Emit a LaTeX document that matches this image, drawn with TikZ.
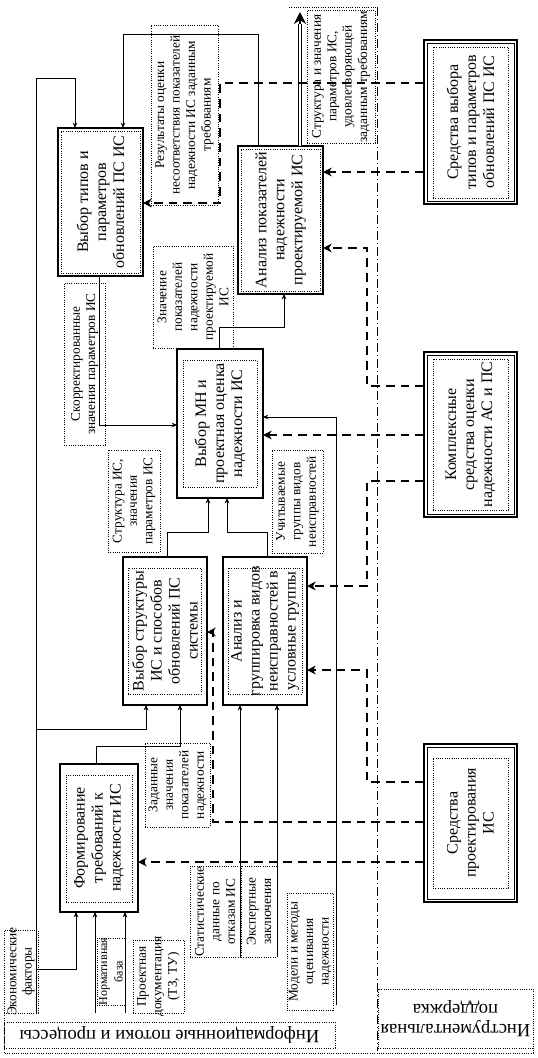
\documentclass[tikz,border=0pt]{standalone}
\usepackage{fontspec}
\setmainfont{Liberation Serif}
\usetikzlibrary{arrows.meta,fit}
\begin{document}
\begin{tikzpicture}[x=0.75pt,y=-0.75pt,
  every node/.style={outer sep=0pt},
  mbox/.style={draw, line width=0.8pt, inner sep=0pt},
  ibox/.style={draw, line width=0.6pt, dash pattern=on 0.6pt off 1.1pt, inner sep=0pt},
  tbox/.style={draw, line width=1.6pt, inner sep=0pt},
  tline/.style={draw, line width=0.6pt, inner sep=0pt},
  lbox/.style={draw, line width=0.6pt, dash pattern=on 0.6pt off 1.1pt, inner sep=0pt},
  bigtxt/.style={rotate=90, align=center, inner sep=0pt, font=\fontsize{12}{13.5}\selectfont},
  smtxt/.style={rotate=90, align=center, inner sep=0pt, font=\fontsize{10}{11.6}\selectfont},
  capt/.style={rotate=180, align=center, inner sep=0pt, font=\fontsize{14}{15}\selectfont},
  sline/.style={line width=0.75pt, -{Stealth[length=4pt,width=3.5pt]}},
  dline/.style={line width=1.6pt, dash pattern=on 6.5pt off 4.5pt, -{Stealth[length=6.5pt,width=6.5pt,inset=2pt]}},
  dblline/.style={double, double distance=2.2pt, line width=0.6pt},
  bigarrow/.style={line width=0.8pt, -{Stealth[length=9pt,width=9pt,inset=3pt]}},
  frameline/.style={line width=0.6pt, dash pattern=on 0.6pt off 1.1pt},
  dashdot/.style={line width=0.6pt, dash pattern=on 7pt off 2pt on 1pt off 2pt}
]
\useasboundingbox (0,0) rectangle (538,1058);

% frame lines
\draw[frameline] (289,7) -- (377,7);
\draw[dashdot] (377,7) -- (377,1051);
\draw[frameline] (4,1013) -- (4,1053) -- (533,1053) -- (533,1048);

% main process boxes
\node[mbox, fit={(58,128) (143,276)}] (b1) {};
\node[ibox, fit={(61,131) (140,273)}] (b1i) {};
\node[bigtxt] (b1t) at (b1.center) {Выбор типов и\\параметров\\обновлений ПС ИС};

\node[mbox, fit={(238,146) (323,294)}] (b2) {};
\node[ibox, fit={(241,149) (320,291)}] (b2i) {};
\node[bigtxt] (b2t) at (b2.center) {Анализ показателей\\надежности\\проектируемой ИС};

\node[mbox, fit={(177,349) (263,498)}] (b3) {};
\node[ibox, fit={(183,360) (257,487)}] (b3i) {};
\node[bigtxt] (b3t) at (b3.center) {Выбор МН и\\проектная оценка\\надежности ИС};

\node[mbox, fit={(123,557) (207,705)}] (b4) {};
\node[ibox, fit={(128,568) (201,694)}] (b4i) {};
\node[bigtxt] (b4t) at (b4.center) {Выбор структуры\\ИС и способов\\обновлений ПС\\системы};

\node[mbox, fit={(223,557) (307,705)}] (b5) {};
\node[ibox, fit={(228,568) (302,694)}] (b5i) {};
\node[bigtxt] (b5t) at (b5.center) {Анализ и\\группировка видов\\неисправностей в\\условные группы};

\node[mbox, fit={(60,764) (138,912)}] (b6) {};
\node[ibox, fit={(66,775) (132,902)}] (b6i) {};
\node[bigtxt] (b6t) at (b6.center) {Формирование\\требований к\\надежности ИС};

% tool boxes
\node[tbox, fit={(424,40) (517,204)}] (t1) {};
\node[tline, fit={(427,43) (514,201)}] (t1l) {};
\node[ibox, fit={(433,47) (508,198)}] (t1i) {};
\node[bigtxt] (t1t) at (t1.center) {Средства выбора\\типов и параметров\\обновлений ПС ИС};

\node[tbox, fit={(424,352) (517,517)}] (t2) {};
\node[tline, fit={(427,355) (514,514)}] (t2l) {};
\node[ibox, fit={(433,359) (508,510)}] (t2i) {};
\node[bigtxt] (t2t) at (t2.center) {Комплексные\\средства оценки\\надежности АС и ПС};

\node[tbox, fit={(424,744) (517,902)}] (t3) {};
\node[tline, fit={(427,747) (514,899)}] (t3l) {};
\node[ibox, fit={(433,758) (508,888)}] (t3i) {};
\node[bigtxt] (t3t) at (t3.center) {Средства\\проектирования\\ИС};

% label boxes
\node[lbox, fit={(151,25) (218,205)}] (l1) {};
\node[smtxt] (l1t) at (l1.center) {Результаты оценки\\несоответствия показателей\\надежности ИС заданным\\требованиям};

\node[lbox, fit={(307,10) (375,143)}] (l2) {};
\node[smtxt] (l2t) at (l2.center) {Структура и значения\\параметров ИС,\\удовлетворяющей\\заданным требованиям};

\node[lbox, fit={(153,246) (233,348)}] (l3) {};
\node[smtxt] (l3t) at (l3.center) {Значение\\показателей\\надежности\\проектируемой\\ИС};

\node[lbox, fit={(64,283) (105,445)}] (l4) {};
\node[smtxt] (l4t) at (l4.center) {Скорректированные\\значения параметров ИС};

\node[lbox, fit={(108,450) (160,552)}] (l5) {};
\node[smtxt] (l5t) at (l5.center) {Структура ИС,\\значения\\параметров ИС};

\node[lbox, fit={(272,450) (323,553)}] (l6) {};
\node[smtxt] (l6t) at (l6.center) {Учитываемые\\группы видов\\неисправностей};

\node[lbox, fit={(145,743) (210,827)}] (l7) {};
\node[smtxt] (l7t) at (l7.center) {Заданные\\значения\\показателей\\надежности};

\node[lbox, fit={(190,866) (240,957)}] (l8) {};
\node[smtxt] (l8t) at (l8.center) {Статистические\\данные по\\отказам ИС};

\node[lbox, fit={(241,866) (277,957)}] (l9) {};
\node[smtxt] (l9t) at (l9.center) {Экспертные\\заключения};

\node[lbox, fit={(287,893) (333,1010)}] (l10) {};
\node[smtxt] (l10t) at (l10.center) {Модели и методы\\оценивания\\надежности};

\node[lbox, fit={(4,930) (38,1013)}] (l11) {};
\node[smtxt] (l11t) at (l11.center) {Экономические\\факторы};

\node[lbox, fit={(97,938) (125,1005)}] (l12) {};
\node[smtxt, font=\fontsize{9}{11.6}\selectfont] (l12t) at (l12.center) {Нормативная\\база};

\node[lbox, fit={(133,940) (184,1013)}] (l13) {};
\node[smtxt] (l13t) at (l13.center) {Проектная\\документация\\(ТЗ, ТУ)};

\node[lbox, fit={(4,1022) (335,1048)}] (l14) {};
\node[capt] (l14t) at (l14.center) {Информационные потоки и процессы};

\node[lbox, fit={(378,989) (533,1048)}] (l15) {};
\node[capt] (l15t) at (l15.center) {Инструментальная\\поддержка};

% bend coordinates
\coordinate (k1) at (258,34);  \coordinate (k2) at (123,34);
\coordinate (e1) at (36,78);   \coordinate (e2) at (75,78);
\coordinate (e3) at (36,969);  \coordinate (e4) at (76,969);
\coordinate (e5) at (36,729);  \coordinate (e6) at (146,729);
\coordinate (n1) at (95,1013); \coordinate (n2) at (125,1013);
\coordinate (f1) at (96,746);  \coordinate (f2) at (180,746);
\coordinate (g1) at (167,532); \coordinate (g2) at (208,532);
\coordinate (g3) at (267,532); \coordinate (g4) at (227,532);
\coordinate (h1) at (219,327); \coordinate (h2) at (284,327);
\coordinate (i1) at (99,425);
\coordinate (j1) at (336,1005); \coordinate (j2) at (336,417);
\coordinate (out) at (300,12);  \coordinate (outb) at (300,24);

% solid connectors
\draw[sline] (b2.north -| k1) -- (k1) -- (k2) -- (b1.north -| k2);
\draw[sline] (l11.south -| e1) -- (e1) -- (e2) -- (b1.north -| e2);
\draw[sline] (e3) -- (e4) -- (b6.south -| e4);
\draw[sline] (e5) -- (e6) -- (b4.south -| e6);
\draw[sline] (n1) -- (b6.south -| n1);
\draw[sline] (n2) -- (b6.south -| n2);
\draw[sline] (b6.north -| f1) -- (f1) -- (f2) -- (b4.south -| f2);
\draw[sline] (b4.north -| g1) -- (g1) -- (g2) -- (b3.south -| g2);
\draw[sline] (b5.north -| g3) -- (g3) -- (g4) -- (b3.south -| g4);
\draw[sline] (b3.north -| h1) -- (h1) -- (h2) -- (b2.south -| h2);
\draw[sline] (b1.south -| i1) -- (i1) -- (b3.west |- i1);
\draw[sline] (j1) -- (j2) -- (b3.east |- j2);
\draw[sline] (l8.south east) -- (b5.south -| l8.south east);
\draw[sline] (l9.south east) -- (b5.south -| l9.south east);

% output double arrow
\draw[dblline] (b2.north -| out) -- (outb);
\draw[bigarrow] (outb) -- (out);

% dashed connectors
\coordinate (dd1) at (220,83);  \coordinate (dd2) at (220,203);
\coordinate (dd3) at (400,172);
\coordinate (dd4) at (367,386); \coordinate (dd5) at (367,248);
\coordinate (dd6) at (400,435);
\coordinate (dd7) at (367,481); \coordinate (dd8) at (367,586);
\coordinate (dd9) at (367,782); \coordinate (dd10) at (367,670);
\coordinate (dd11) at (213,822); \coordinate (dd12) at (213,632);
\coordinate (dd13) at (400,862);

\draw[dline] (t1.west |- dd1) -- (dd1) -- (dd2) -- (b1.east |- dd2);
\draw[dline] (t1.west |- dd3) -- (b2.east |- dd3);
\draw[dline] (t2.west |- dd4) -- (dd4) -- (dd5) -- (b2.east |- dd5);
\draw[dline] (t2.west |- dd6) -- (b3.east |- dd6);
\draw[dline] (t2.west |- dd7) -- (dd7) -- (dd8) -- (b5.east |- dd8);
\draw[dline] (t3.west |- dd9) -- (dd9) -- (dd10) -- (b5.east |- dd10);
\draw[dline] (t3.west |- dd11) -- (dd11) -- (dd12) -- (b4.east |- dd12);
\draw[dline] (t3.west |- dd13) -- (b6.east |- dd13);
\end{tikzpicture}
\end{document}
